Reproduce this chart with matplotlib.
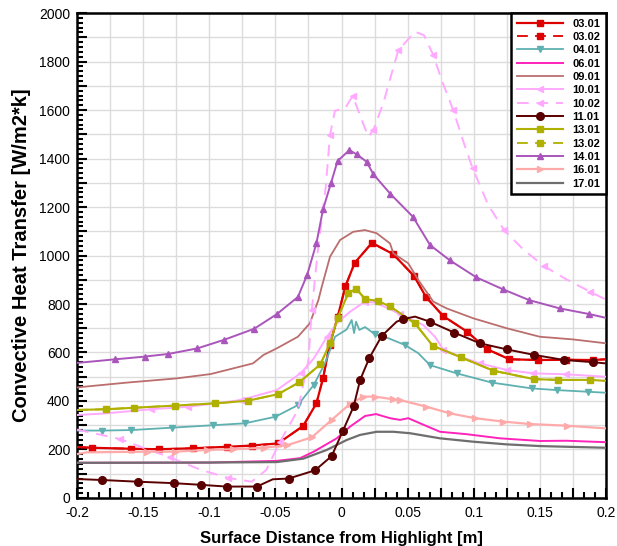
import matplotlib
matplotlib.use("Agg")
from matplotlib import pyplot as plt
from matplotlib.ticker import MultipleLocator, FuncFormatter
import numpy as np

plt.rcParams['font.family'] = ['Liberation Sans', 'DejaVu Sans']
plt.rcParams['axes.unicode_minus'] = False

# values (x in m, y in W/m2*k)
x0301 = [-0.2, -0.189, -0.159, -0.138, -0.112, -0.087, -0.068, -0.048, -0.029, -0.019, -0.014, -0.009, -0.003,
         0.003, 0.010, 0.023, 0.039, 0.055, 0.064, 0.077, 0.095, 0.110, 0.127, 0.149, 0.170, 0.190, 0.2]
y0301 = [210, 207, 203, 201, 205, 211, 216, 225, 297, 390, 493, 630, 745,
         874, 970, 1052, 1006, 915, 828, 750, 686, 614, 572, 569, 570, 569, 572]
x0302 = x0301
y0302 = y0301

x0401 = [-0.2, -0.181, -0.159, -0.128, -0.097, -0.073, -0.050, -0.033, -0.021, -0.0125, -0.0049, 0.0039, 0.0077,
         0.0095, 0.011, 0.0135, 0.0178, 0.0253, 0.0354, 0.048, 0.0581, 0.0669, 0.0871, 0.1136, 0.1438, 0.1627,
         0.1866, 0.2]
y0401 = [278, 278, 280, 290, 300, 308, 335, 383, 466, 555, 665, 695, 734,
         680, 727, 693, 705, 675, 659, 631, 597, 548, 514, 476, 452, 445, 438, 434]

x0601 = [-0.2, -0.1, -0.049, -0.0314, -0.021, -0.0036, 0.0064, 0.0178, 0.0261, 0.0367, 0.0442, 0.0505, 0.0594,
         0.0745, 0.0947, 0.1198, 0.150, 0.170, 0.2]
y0601 = [145, 146, 153, 164, 191, 246, 294, 338, 346, 329, 322, 329, 308,
         273, 263, 246, 235, 236, 230]

x0901 = [-0.2, -0.162, -0.125, -0.099, -0.067, -0.059, -0.049, -0.033, -0.024, -0.0175, -0.015, -0.0087, -0.0011,
         0.0089, 0.0178, 0.0266, 0.0367, 0.0392, 0.0505, 0.0581, 0.0694, 0.0795, 0.0997, 0.125, 0.150, 0.175, 0.2]
y0901 = [456, 476, 493, 511, 555, 590, 617, 665, 720, 816, 870, 995, 1064,
         1098, 1105, 1092, 1050, 1009, 968, 899, 810, 782, 741, 700, 665, 654, 638]

x1001 = [-0.2, -0.178, -0.144, -0.116, -0.076, -0.049, -0.031, -0.021, -0.011, -0.0036, 0.0064, 0.0178, 0.0253,
         0.0354, 0.0442, 0.0619, 0.0707, 0.077, 0.0896, 0.1047, 0.125, 0.145, 0.170, 0.2]
y1001 = [342, 349, 366, 376, 404, 445, 514, 575, 665, 720, 768, 810, 806,
         782, 758, 713, 665, 612, 583, 555, 528, 514, 510, 500]

x1002 = [-0.2, -0.1675, -0.149, -0.130, -0.107, -0.086, -0.068, -0.057, -0.0465, -0.033, -0.025, -0.0225, -0.018,
         -0.012, -0.0087, -0.005, 0.0026, 0.0085, 0.0153, 0.0203, 0.024, 0.0316, 0.0372, 0.043, 0.0556, 0.0624,
         0.0694, 0.0758, 0.0845, 0.0926, 0.0992, 0.111, 0.123, 0.1375, 0.153, 0.170, 0.188, 0.2]
y1002 = [282, 243, 205, 168, 117, 83, 67, 115, 232, 363, 569, 775, 1015,
         1280, 1497, 1597, 1607, 1658, 1559, 1490, 1517, 1628, 1737, 1847, 1923, 1909,
         1827, 1724, 1600, 1463, 1360, 1208, 1105, 1025, 957, 902, 851, 818]

x1101 = [-0.2, -0.181, -0.154, -0.127, -0.106, -0.087, -0.064, -0.052, -0.040, -0.020, -0.0074, 0.0009, 0.0092,
         0.0141, 0.021, 0.0304, 0.0417, 0.0467, 0.0556, 0.0669, 0.0853, 0.1047, 0.1249, 0.1458, 0.1685, 0.1904, 0.2]
y1101 = [78, 74, 67, 61, 54, 47, 47, 77, 80, 114, 173, 275, 378,
         487, 577, 668, 727, 738, 748, 727, 682, 638, 613, 590, 569, 560, 555]

x1301 = [-0.2, -0.178, -0.157, -0.126, -0.096, -0.071, -0.048, -0.032, -0.016, -0.0087, -0.0029, 0.0052, 0.011,
         0.0178, 0.0278, 0.0367, 0.0556, 0.069, 0.0904, 0.1148, 0.1456, 0.164, 0.188, 0.2]
y1301 = [363, 366, 372, 381, 390, 401, 428, 477, 551, 638, 743, 845, 863,
         821, 812, 790, 720, 628, 580, 525, 490, 487, 487, 483]
x1302 = x1301
y1302 = y1301

x1401 = [-0.2, -0.171, -0.149, -0.131, -0.109, -0.089, -0.066, -0.049, -0.033, -0.026, -0.019, -0.014, -0.008,
         -0.003, 0.006, 0.0115, 0.019, 0.024, 0.037, 0.054, 0.067, 0.082, 0.102, 0.122, 0.142, 0.165, 0.187, 0.2]
y1401 = [557, 572, 583, 594, 617, 652, 698, 758, 829, 920, 1050, 1190, 1298,
         1390, 1435, 1417, 1387, 1336, 1254, 1160, 1043, 980, 910, 861, 816, 782, 759, 743]

x1601 = [-0.2, -0.193, -0.147, -0.126, -0.102, -0.082, -0.059, -0.041, -0.0225, -0.0074, 0.0064, 0.0165, 0.0253,
         0.0392, 0.0442, 0.0639, 0.082, 0.1009, 0.1223, 0.1425, 0.1703, 0.2]
y1601 = [181, 188, 191, 191, 198, 201, 207, 218, 250, 322, 388, 418, 418,
         407, 404, 377, 349, 329, 315, 305, 298, 287]

x1701 = [-0.2, -0.1, -0.049, -0.029, -0.0112, 0.0039, 0.014, 0.0266, 0.0392, 0.0518, 0.0745, 0.0997, 0.125, 0.150, 0.2]
y1701 = [145, 146, 148, 162, 198, 239, 260, 273, 273, 267, 246, 232, 221, 214, 207]

labels = ['03.01', '03.02', '04.01', '06.01', '09.01', '10.01', '10.02', '11.01',
          '13.01', '13.02', '14.01', '16.01', '17.01']

fig = plt.figure(figsize=(6.17, 5.46), dpi=100)
ax = fig.add_axes([0.125, 0.088, 0.857, 0.888])

red = '#dd0000'
olive = '#b0b000'
lilac = '#ffaaff'
dash = (6, 4)

ax.plot(x0301, y0301, color=red, lw=1.6, marker='s', ms=5, markevery=list(range(1, 26)), label=labels[0], zorder=3)
ax.plot(x0302, y0302, color=red, lw=1.3, ls='--', dashes=dash, marker='s', ms=5, markevery=[],
        label=labels[1], zorder=2)
ax.plot(x0401, y0401, color='#5fb0b0', lw=1.3, marker='v', ms=4.5,
        markevery=[1, 2, 3, 4, 5, 6, 7, 8, 17, 19, 21, 22, 23, 24, 25, 26], label=labels[2], zorder=3)
ax.plot(x0601, y0601, color='#ff22bb', lw=1.4, label=labels[3], zorder=3)
ax.plot(x0901, y0901, color='#bb6e6e', lw=1.3, label=labels[4], zorder=3)
ax.plot(x1001, y1001, color=lilac, lw=1.4, marker='<', ms=4.5, markevery=[2, 3, 4, 6, 8, 11, 14, 17, 19, 20, 21, 22],
        label=labels[5], zorder=3)
ax.plot(x1002, y1002, color=lilac, lw=1.4, ls='--', dashes=dash, marker='<', ms=4.5,
        markevery=[1, 3, 5, 8, 11, 14, 17, 20, 23, 26, 28, 30, 32, 34, 36], label=labels[6], zorder=3)
ax.plot(x1101, y1101, color='#5a0000', lw=1.4, marker='o', ms=5.5,
        markevery=[1, 2, 3, 4, 5, 6, 8, 9, 10, 11, 12, 13, 14, 15, 17, 19, 20, 21, 22, 23, 24, 25],
        label=labels[7], zorder=4)
ax.plot(x1301, y1301, color=olive, lw=1.5, marker='s', ms=5, markevery=list(range(1, 23)), label=labels[8], zorder=3)
ax.plot(x1302, y1302, color=olive, lw=1.3, ls='--', dashes=dash, marker='s', ms=5, markevery=[],
        label=labels[9], zorder=2)
ax.plot(x1401, y1401, color='#aa55bb', lw=1.4, marker='^', ms=4.5, markevery=list(range(1, 27)),
        label=labels[10], zorder=3)
ax.plot(x1601, y1601, color='#ffaaaa', lw=1.6, marker='>', ms=5, markevery=list(range(2, 21)),
        label=labels[11], zorder=3)
ax.plot(x1701, y1701, color='#6e6e6e', lw=1.6, label=labels[12], zorder=3)

ax.set_xlim(-0.2, 0.2)
ax.set_ylim(0, 2000)

ax.xaxis.set_major_locator(MultipleLocator(0.025))
ax.xaxis.set_minor_locator(MultipleLocator(0.05 / 6))
ax.yaxis.set_major_locator(MultipleLocator(100))
ax.yaxis.set_minor_locator(MultipleLocator(20))


def xfmt(v, pos):
    if abs(v / 0.05 - round(v / 0.05)) < 1e-6:
        return '%g' % round(v, 3)
    return ''


def yfmt(v, pos):
    if int(round(v)) % 200 == 0:
        return '%d' % round(v)
    return ''


ax.xaxis.set_major_formatter(FuncFormatter(xfmt))
ax.yaxis.set_major_formatter(FuncFormatter(yfmt))
ax.tick_params(which='both', direction='in', top=False, right=False, width=1.5, labelsize=10, colors='black')
ax.tick_params(which='major', length=7)
ax.tick_params(axis='x', which='major', pad=6)
ax.tick_params(axis='y', which='major', pad=5)
ax.tick_params(which='minor', length=4)
ax.grid(True, which='major', color='#dcdcdc', lw=1.0, zorder=0)
ax.set_axisbelow(True)
for sp in ax.spines.values():
    sp.set_linewidth(1.8)

ax.set_xlabel('Surface Distance from Highlight [m]', fontsize=12, fontweight='bold', labelpad=8)
ax.set_ylabel('Convective Heat Transfer [W/m2*k]', fontsize=14.5, fontweight='bold', labelpad=6)

leg = ax.legend(loc='upper right', bbox_to_anchor=(1.0, 1.0), borderaxespad=0, fancybox=False,
                prop={'weight': 'bold', 'size': 8}, handlelength=4.2, handletextpad=0.8,
                labelspacing=0.3, borderpad=0.5, numpoints=1, framealpha=1)
leg.get_frame().set_edgecolor('black')
leg.get_frame().set_linewidth(1.8)
leg.set_zorder(10)

fig.savefig('out.png', dpi=100)
